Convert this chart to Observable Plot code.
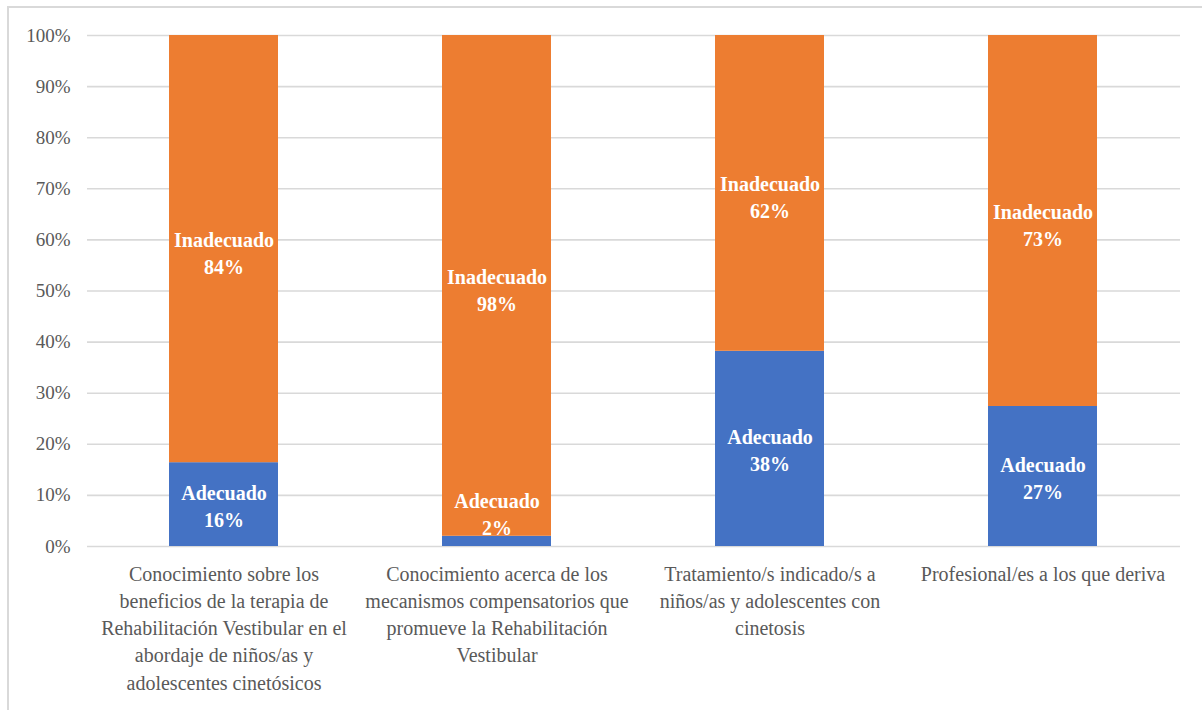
<!DOCTYPE html>
<html>
<head>
<meta charset="utf-8">
<script src="https://cdn.jsdelivr.net/npm/d3@7"></script>
<script src="https://cdn.jsdelivr.net/npm/@observablehq/plot@0.6"></script>
<style>
  html, body { margin: 0; padding: 0; background: #fff; }
  #wrap { position: relative; width: 1202px; height: 710px; overflow: hidden; }
  #frame { position: absolute; left: 7px; top: 6px; width: 1300px; height: 800px;
           border-top: 2px solid #d9d9d9; border-left: 2px solid #d9d9d9; box-sizing: border-box; }
  #chart { position: absolute; left: 0; top: 0; }
</style>
</head>
<body>
<div id="wrap"><div id="frame"></div><div id="chart"></div></div>
<script>
const categories = [
  "Conocimiento sobre los\nbeneficios de la terapia de\nRehabilitación Vestibular en el\nabordaje de niños/as y\nadolescentes cinetósicos",
  "Conocimiento acerca de los\nmecanismos compensatorios que\npromueve la Rehabilitación\nVestibular",
  "Tratamiento/s indicado/s a\nniños/as y adolescentes con\ncinetosis",
  "Profesional/es a los que deriva"
];
const series = ["Adecuado", "Inadecuado"];
const adecuado = [16.4, 2, 38.2, 27.4];
const inadecuado = [83.6, 98, 61.8, 72.6];
const adecuadoLabels = ["16%", "2%", "38%", "27%"];
const inadecuadoLabels = ["84%", "98%", "62%", "73%"];
const yTicks = [0, 10, 20, 30, 40, 50, 60, 70, 80, 90, 100];
const colors = ["#4472C4", "#ED7D31"];

const rows = [];
categories.forEach((c, i) => {
  rows.push({cat: c, serie: series[0], value: adecuado[i]});
  rows.push({cat: c, serie: series[1], value: inadecuado[i]});
});
const labels = [];
categories.forEach((c, i) => {
  labels.push({cat: c, y: Math.max(adecuado[i] / 2, 6.5), text: series[0] + "\n" + adecuadoLabels[i]});
  labels.push({cat: c, y: adecuado[i] + inadecuado[i] / 2 - 0.5, text: series[1] + "\n" + inadecuadoLabels[i]});
});

const font = "Liberation Serif";
const chart = Plot.plot({
  width: 1202,
  height: 710,
  marginLeft: 87,
  marginRight: 22,
  marginTop: 35,
  marginBottom: 164,
  style: {fontSize: "19px", color: "#595959", background: "transparent"},
  x: {domain: categories, paddingInner: 0.6, paddingOuter: 0.3, label: null},
  y: {domain: [0, 100], label: null},
  color: {domain: series, range: colors},
  marks: [
    Plot.ruleY(yTicks, {stroke: "#d9d9d9", strokeWidth: 1.6}),
    Plot.barY(rows, Plot.stackY({x: "cat", y: "value", fill: "serie", order: series})),
    Plot.text(labels, {x: "cat", y: "y", text: "text", fill: "white", fontWeight: "bold",
      fontSize: 20, lineHeight: 1.35}),
    Plot.axisY({ticks: yTicks, tickFormat: d => d + "%", tickSize: 0, tickPadding: 17,
      fontSize: 19, fill: "#595959", label: null}),
    Plot.axisX({tickSize: 0, tickPadding: 15, fontSize: 20, lineHeight: 1.36, fill: "#595959",
      label: null, lineWidth: Infinity, textOverflow: null})
  ]
});
chart.setAttribute("font-family", font);
chart.style.fontFamily = font;
chart.querySelectorAll("text, g").forEach(el => {
  el.setAttribute("font-family", font);
  el.style.fontFamily = font;
});
document.getElementById("chart").appendChild(chart);
</script>
</body>
</html>
